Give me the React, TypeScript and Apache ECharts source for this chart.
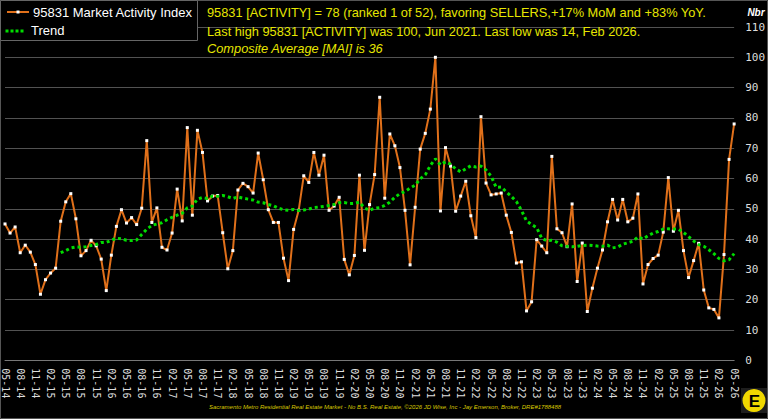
import React, { useEffect, useRef } from 'react';
import * as echarts from 'echarts';

const categories = [
  '05-14','06-14','07-14','08-14','09-14','10-14','11-14','12-14',
  '01-15','02-15','03-15','04-15','05-15','06-15','07-15','08-15','09-15','10-15','11-15','12-15',
  '01-16','02-16','03-16','04-16','05-16','06-16','07-16','08-16','09-16','10-16','11-16','12-16',
  '01-17','02-17','03-17','04-17','05-17','06-17','07-17','08-17','09-17','10-17','11-17','12-17',
  '01-18','02-18','03-18','04-18','05-18','06-18','07-18','08-18','09-18','10-18','11-18','12-18',
  '01-19','02-19','03-19','04-19','05-19','06-19','07-19','08-19','09-19','10-19','11-19','12-19',
  '01-20','02-20','03-20','04-20','05-20','06-20','07-20','08-20','09-20','10-20','11-20','12-20',
  '01-21','02-21','03-21','04-21','05-21','06-21','07-21','08-21','09-21','10-21','11-21','12-21',
  '01-22','02-22','03-22','04-22','05-22','06-22','07-22','08-22','09-22','10-22','11-22','12-22',
  '01-23','02-23','03-23','04-23','05-23','06-23','07-23','08-23','09-23','10-23','11-23','12-23',
  '01-24','02-24','03-24','04-24','05-24','06-24','07-24','08-24','09-24','10-24','11-24','12-24',
  '01-25','02-25','03-25','04-25','05-25','06-25','07-25','08-25','09-25','10-25','11-25','12-25',
  '01-26','02-26','03-26','04-26','05-26',
];

const activity = [
  45, 42, 44, 35.5, 38, 35.7, 31.6, 21.8, 26.6, 28.8, 30.4, 45.9, 52.3, 55, 46.7, 34.5, 36.2, 39.6, 37.8, 33.4,
  23, 34.7, 44.2, 49.7, 45.3, 47.1, 44.8, 50.2, 72.5, 45.5, 50.3, 37.3, 36.4, 42, 56.5, 46, 76.8, 47.9, 75.9, 68.6,
  52.6, 54.2, 54.4, 42.1, 30.2, 36.2, 56.2, 58.4, 57.3, 55.2, 68.4, 59.6, 49.7, 45.5, 45.5, 33.7, 26.3, 43.2, 49.5, 60.9,
  58.7, 68.6, 61.1, 67.7, 49.5, 50.9, 53.8, 33.3, 28.2, 34.6, 61.1, 36.3, 51.4, 61.3, 86.8, 53.5, 74.7, 70.8, 63.6, 49.5,
  31.5, 50.5, 69.7, 74.9, 82.9, 100, 49.3, 70.2, 64.1, 49.2, 54.2, 59.1, 47.7, 40.5, 80.4, 58.5, 54.6, 54.9, 55.2, 47.9,
  42.2, 32.1, 32.5, 16.3, 19.3, 39.8, 37.7, 35.5, 67.3, 43.4, 42.1, 37.5, 51.6, 26, 38.7, 16.1, 23.8, 30.4, 36.4, 45.7,
  53.1, 46.3, 53.1, 45.7, 46.9, 54.9, 25.2, 31.6, 33.6, 34.7, 42.3, 60.3, 42.6, 49.5, 36.2, 27.3, 32.9, 38.6, 23.2, 17.3,
  16.8, 14, 34.9, 66.3, 78,
];

const trend = [
  null, null, null, null, null, null, null, null, null, null, null,
  35.5, 36.2, 37.1, 37.4, 37.3, 37.5, 37.9, 38.2, 38.9, 38.9, 39.6, 40.3, 40.1, 39.6, 39.5, 39.7, 41.5, 43.3, 44.5,
  45, 45.4, 46.4, 47.2, 47.9, 48.5, 50.3, 50.9, 53.2, 53.7, 53.4, 54.2, 54.1, 54.4, 54, 53.4, 53.9, 53.5, 53.2, 52.9,
  52.2, 52, 51.4, 51, 50.2, 49.7, 49.5, 49.8, 49.4, 49.6, 49.9, 50.4, 50.6, 50.8, 51.1, 51.4, 52, 52.1, 51.7, 51.8,
  52.2, 50.3, 49.5, 50.2, 50.4, 51.1, 52.2, 53.8, 55, 55.7, 56.8, 57.8, 59.9, 61.2, 64.3, 66.5, 64.5, 65.5, 64.7, 63.2,
  62.2, 63.2, 64.2, 63.8, 64.1, 62.8, 60.8, 57.1, 57.2, 55.6, 54.1, 52.4, 49.5, 46, 44.8, 43.8, 40.3, 39.5, 39.6, 39,
  37.8, 37.6, 37.5, 37.6, 37.9, 38, 37.9, 37.7, 37.6, 38, 37.1, 37.4, 38.3, 38.8, 39.3, 40.7, 40, 41.1, 42, 42.5,
  43.3, 43.4, 43.3, 43.3, 42.2, 40.8, 39.4, 38.2, 37.6, 36.5, 35.2, 33.6, 32.8, 33.2, 35.2,
];

const seriesNames = ['95831 Market Activity Index', 'Trend'];
const titleLines = [
  '95831 [ACTIVITY] = 78 (ranked 1 of 52), favoring SELLERS,+17% MoM and +83% YoY.',
  'Last high 95831 [ACTIVITY] was 100, Jun 2021. Last low was 14, Feb 2026.',
  'Composite Average [MAI] is 36',
];
const footer =
  'Sacramento Metro Residential Real Estate Market - No B.S. Real Estate, \u00A92026 JD Wise, Inc - Jay Emerson, Broker, DRE#1788488';

const ORANGE = '#e0701a';
const GREEN = '#00dd00';
const YELLOW = '#e6e600';
const SANS = '"Liberation Sans", Arial, sans-serif';
const MONO = '"DejaVu Sans Mono", monospace';

function txt(text: string, x: number, y: number, extra: any = {}) {
  const st: any = {
    text,
    x,
    y,
    fill: extra.fill || '#fff',
    fontSize: extra.fontSize || 13,
    fontFamily: extra.fontFamily || SANS,
    fontStyle: extra.fontStyle || 'normal',
    fontWeight: extra.fontWeight || 'normal',
    align: extra.align || 'left',
    textAlign: extra.align || 'left',
    verticalAlign: 'middle',
    textVerticalAlign: 'middle',
  };
  return { type: 'text', z: extra.z || 110, style: st };
}

export default function App() {
  const ref = useRef<HTMLDivElement>(null);
  useEffect(() => {
    if (!ref.current) return;
    const chart = echarts.init(ref.current, null, { renderer: 'svg' });
    const legendDots = [7, 12, 17, 22].map((x) => ({
      type: 'rect',
      z: 110,
      shape: { x: x - 1.5, y: 29.5, width: 3, height: 3 },
      style: { fill: GREEN },
    }));
    chart.setOption({
      animation: false,
      backgroundColor: '#000',
      grid: { left: 2.5, right: 33, top: 27, bottom: 58.7, containLabel: false },
      xAxis: {
        type: 'category',
        data: categories,
        boundaryGap: false,
        axisLine: { show: true, lineStyle: { color: '#777', width: 1 } },
        axisTick: { show: false },
        splitLine: { show: false },
        axisLabel: {
          interval: 2,
          rotate: -90,
          color: '#ddd',
          fontFamily: MONO,
          fontSize: 10,
          margin: 8,
        },
      },
      yAxis: {
        type: 'value',
        position: 'right',
        min: 0,
        max: 110,
        interval: 10,
        axisLine: { show: false },
        axisTick: { show: false },
        splitLine: { show: true, lineStyle: { color: '#525252', width: 1 } },
        axisLabel: { color: '#ddd', fontFamily: MONO, fontSize: 11, margin: 11 },
      },
      series: [
        {
          name: seriesNames[0],
          type: 'line',
          data: activity,
          symbol: 'rect',
          symbolSize: 3,
          showSymbol: true,
          itemStyle: { color: '#fff' },
          lineStyle: { color: ORANGE, width: 2 },
          z: 3,
        },
        {
          name: seriesNames[1],
          type: 'line',
          data: trend,
          symbol: 'none',
          lineStyle: { color: GREEN, width: 3, type: 'dotted' },
          z: 4,
        },
      ],
      graphic: [
        {
          type: 'rect',
          z: 100,
          shape: { x: 0.5, y: 0.5, width: 767, height: 418 },
          style: { fill: 'none', stroke: '#555', lineWidth: 1 },
        },
        {
          type: 'rect',
          z: 105,
          shape: { x: 0.5, y: 0.5, width: 197, height: 40 },
          style: { fill: '#000', stroke: '#666', lineWidth: 1 },
        },
        {
          type: 'line',
          z: 110,
          shape: { x1: 7, y1: 12, x2: 29, y2: 12 },
          style: { stroke: ORANGE, lineWidth: 2 },
        },
        {
          type: 'rect',
          z: 111,
          shape: { x: 16.5, y: 10.5, width: 3, height: 3 },
          style: { fill: '#fff' },
        },
        ...legendDots,
        txt(seriesNames[0], 33, 12, { fontSize: 13 }),
        txt(seriesNames[1], 31, 30, { fontSize: 13 }),
        txt(titleLines[0], 207, 12, { fill: YELLOW, fontSize: 12.8 }),
        txt(titleLines[1], 207, 31, { fill: YELLOW, fontSize: 12.8 }),
        txt(titleLines[2], 207, 48.5, { fill: YELLOW, fontSize: 12.8, fontStyle: 'italic' }),
        txt('Nbr', 756, 12, { fontSize: 10, fontWeight: 'bold', fontStyle: 'italic', align: 'center' }),
        txt(footer, 385, 407, { fill: '#d8c800', fontSize: 6, fontStyle: 'italic', align: 'center' }),
        {
          type: 'rect',
          z: 110,
          shape: { x: 741, y: 388, width: 26, height: 25 },
          style: { fill: '#1e1e1e' },
        },
        {
          type: 'circle',
          z: 111,
          shape: { cx: 754, cy: 400.5, r: 11.5 },
          style: { fill: '#f0d800' },
        },
        txt('E', 754.5, 401, { fill: '#000', fontSize: 17, fontWeight: 'bold', align: 'center', z: 115 }),
      ],
    });
    return () => chart.dispose();
  }, []);
  return (
    <div
      ref={ref}
      style={{ position: 'fixed', left: 0, top: 0, width: 768, height: 419 }}
    />
  );
}
